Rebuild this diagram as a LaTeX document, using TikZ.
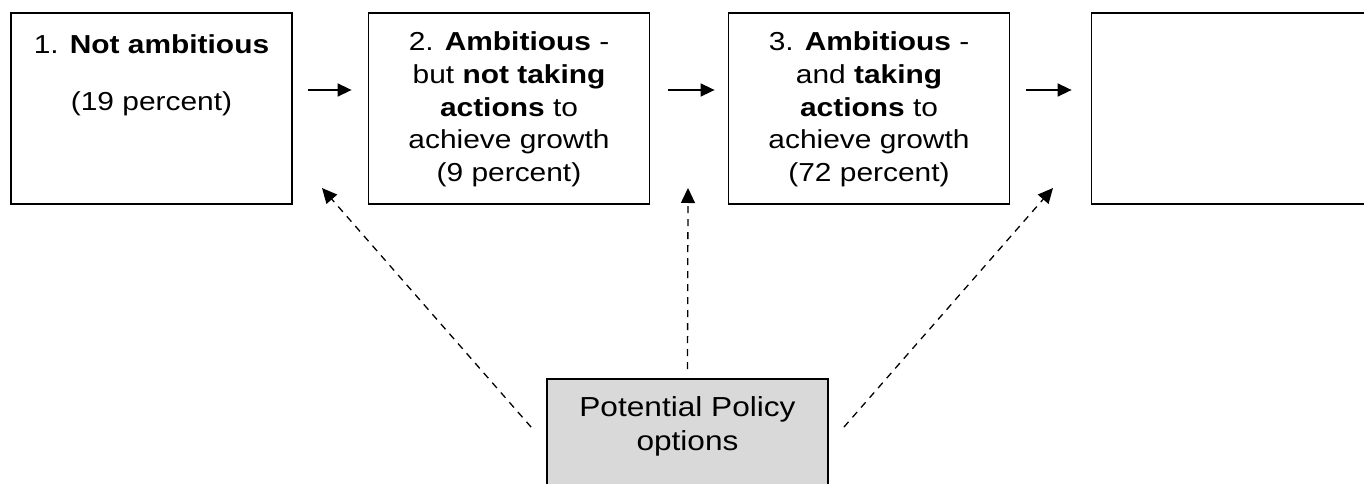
\documentclass[tikz,border=0pt]{standalone}
\usepackage{fontspec}
\setmainfont{Liberation Sans}[FakeStretch=1.15]
\usetikzlibrary{arrows.meta,calc}
\definecolor{policyfill}{RGB}{217,217,217}
\begin{document}
\begin{tikzpicture}[x=1pt,y=-1pt,
  stagebox/.style={draw=black,line width=1.8pt,minimum width=281pt,minimum height=191pt,inner sep=0pt},
  stagetext/.style={anchor=north,inner sep=0pt,align=center,font=\fontsize{26}{32.8}\selectfont},
  flow/.style={line width=1.5pt,-{Triangle[length=14pt,width=13pt]}},
  policy/.style={line width=1.3pt,dash pattern=on 7pt off 6pt,-{Triangle[length=15pt,width=14pt]}}]
\useasboundingbox (0,0) rectangle (1364,484);

% stage boxes
\node[stagebox] (b1) at (151.5,108.5) {};
\node[stagebox] (b2) at (509,108.5) {};
\node[stagebox] (b3) at (869,108.5) {};
\node[stagebox] (b4) at (1232,108.5) {};

% stage texts
\node[stagetext] (t1) at (151.5,34.1) {1. \textbf{Not ambitious}\\[24.5pt](19 percent)};
\node[stagetext] (t2) at (509,31.4) {2. \textbf{Ambitious} -\\but \textbf{not taking}\\\textbf{actions} to\\achieve growth\\(9 percent)};
\node[stagetext] (t3) at (869,31.4) {3. \textbf{Ambitious} -\\and \textbf{taking}\\\textbf{actions} to\\achieve growth\\(72 percent)};

% policy box
\node[draw=black,line width=1.8pt,fill=policyfill,minimum width=281pt,minimum height=191pt,inner sep=0pt] (p) at (687.5,474.5) {};
\node[anchor=north,inner sep=0pt,align=center,font=\fontsize{27.5}{34}\selectfont] (pt) at (687.5,396.3) {Potential Policy\\options};

% flow between stages
\draw[flow,shorten <=15pt,shorten >=16pt] ([yshift=18.5pt]b1.east) -- ([yshift=18.5pt]b2.west);
\draw[flow,shorten <=18pt,shorten >=13pt] ([yshift=18.5pt]b2.east) -- ([yshift=18.5pt]b3.west);
\draw[flow,shorten <=16pt,shorten >=19pt] ([yshift=18.5pt]b3.east) -- ([yshift=18.5pt]b4.west);

% policy influence
\coordinate (d1) at (322,188);
\coordinate (d2) at (688,188);
\coordinate (d3) at (1053,188);
\draw[policy] ($(p.north west)+(-15,49)$) -- (d1);
\draw[policy] ($(p.north)+(0,-9)$) -- (d2);
\draw[policy] ($(p.north east)+(15,49)$) -- (d3);
\end{tikzpicture}
\end{document}
